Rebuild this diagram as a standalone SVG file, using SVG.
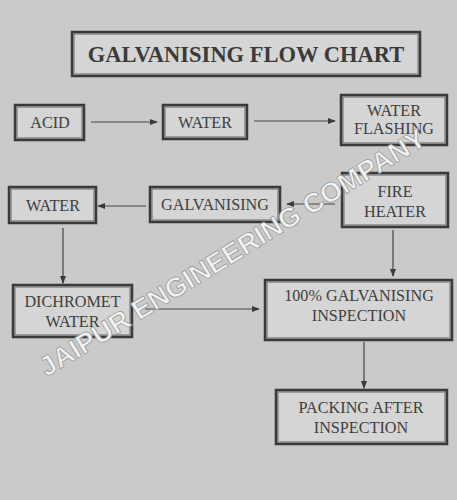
<svg xmlns="http://www.w3.org/2000/svg" width="457" height="500" viewBox="0 0 457 500">
<defs>
<marker id="ah" markerWidth="8" markerHeight="6" refX="7" refY="3" orient="auto" markerUnits="userSpaceOnUse">
<path d="M0,0 L8,3 L0,6 Z" fill="#3a3a3a"/>
</marker>
</defs>
<style>
.bo{fill:none;stroke:#3a3a3a;stroke-width:2.5}
.bi{fill:#d4d5d4;stroke:#8a8a8a;stroke-width:1.5}
.t{font-family:"Liberation Serif",serif;font-size:16.2px;fill:#404040;text-anchor:middle}
.c{stroke:#444;stroke-width:1.2;fill:none;marker-end:url(#ah)}
.wm{font-family:"Liberation Sans",sans-serif;font-weight:bold;font-size:27.5px;fill:#f2f2f2;stroke:#9a9a9a;stroke-width:0.8;text-anchor:middle}
</style>
<rect width="457" height="500" fill="#c9cac9"/>
<g id="title">
<rect x="74" y="34" width="344" height="40" class="bi"/>
<rect x="72" y="32" width="348" height="44" class="bo"/>
<text x="246" y="62" font-family="Liberation Serif,serif" font-weight="bold" font-size="22.5" fill="#3a3a3a" text-anchor="middle">GALVANISING FLOW CHART</text>
</g>
<g id="connectors">
<line x1="91" y1="122" x2="157" y2="122" class="c"/>
<line x1="254" y1="121" x2="335" y2="121" class="c"/>
<line x1="335" y1="204" x2="287" y2="204" class="c"/>
<line x1="146" y1="206" x2="98" y2="206" class="c"/>
<line x1="63" y1="228" x2="63" y2="283" class="c"/>
<line x1="393" y1="230" x2="393" y2="276" class="c"/>
<line x1="145" y1="309" x2="259" y2="309" class="c"/>
<line x1="364" y1="342" x2="364" y2="388" class="c"/>
</g>
<g id="acid">
<rect x="17" y="107" width="65" height="31" class="bi"/>
<rect x="15" y="105" width="69" height="35" class="bo"/>
<text x="50" y="128" class="t">ACID</text>
</g>
<g id="water1">
<rect x="165" y="107" width="80" height="30" class="bi"/>
<rect x="163" y="105" width="84" height="34" class="bo"/>
<text x="205" y="128" class="t">WATER</text>
</g>
<g id="waterflashing">
<rect x="343" y="97" width="102" height="46" class="bi"/>
<rect x="341" y="95" width="106" height="50" class="bo"/>
<text x="394" y="116" class="t">WATER</text>
<text x="394" y="134" class="t">FLASHING</text>
</g>
<g id="water2">
<rect x="11" y="189" width="83" height="32" class="bi"/>
<rect x="9" y="187" width="87" height="36" class="bo"/>
<text x="53" y="211" class="t">WATER</text>
</g>
<g id="galvanising">
<rect x="152" y="189" width="126" height="31" class="bi"/>
<rect x="150" y="187" width="130" height="35" class="bo"/>
<text x="215" y="210" class="t">GALVANISING</text>
</g>
<g id="fireheater">
<rect x="344" y="175" width="102" height="50" class="bi"/>
<rect x="342" y="173" width="106" height="54" class="bo"/>
<text x="395" y="197" class="t">FIRE</text>
<text x="395" y="217" class="t">HEATER</text>
</g>
<g id="dichromet">
<rect x="15" y="287" width="115" height="48" class="bi"/>
<rect x="13" y="285" width="119" height="52" class="bo"/>
<text x="72.5" y="307" class="t">DICHROMET</text>
<text x="72.5" y="327" class="t">WATER</text>
</g>
<g id="inspection">
<rect x="267" y="282" width="183" height="56" class="bi"/>
<rect x="265" y="280" width="187" height="60" class="bo"/>
<text x="359" y="301" class="t">100% GALVANISING</text>
<text x="359" y="321" class="t">INSPECTION</text>
</g>
<g id="packing">
<rect x="278" y="392" width="167" height="50" class="bi"/>
<rect x="276" y="390" width="171" height="54" class="bo"/>
<text x="361" y="413" class="t">PACKING AFTER</text>
<text x="361" y="433" class="t">INSPECTION</text>
</g>
<text x="232" y="262" class="wm" transform="rotate(-31.5 232 252)">JAIPUR ENGINEERING COMPANY</text>
</svg>
